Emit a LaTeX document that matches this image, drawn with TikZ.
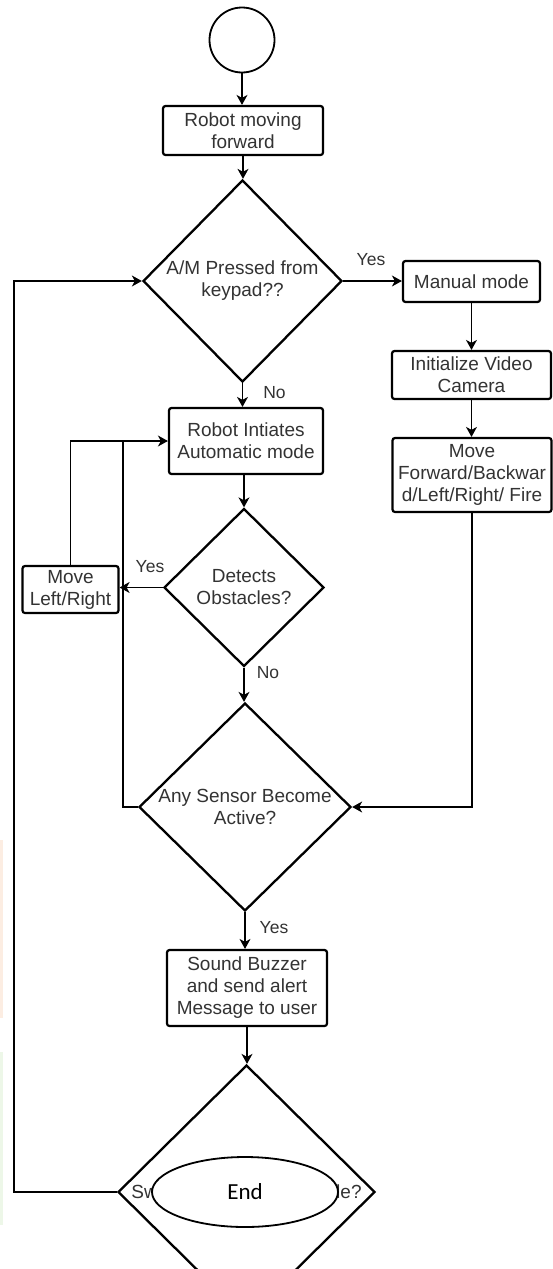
\documentclass[tikz,border=0pt]{standalone}
\usepackage{fontspec}
\setmainfont{Liberation Sans}
\newfontfamily\calfont{Carlito}
\usetikzlibrary{shapes.geometric,arrows.meta}
\definecolor{txtgray}{HTML}{333333}
\definecolor{artorange}{HTML}{FCEDE2}
\definecolor{artgreen}{HTML}{EDF7E8}
\begin{document}
\begin{tikzpicture}[x=1pt,y=-1pt,
  box/.style={draw=black, line width=2.2pt, rounded corners=2.5pt, fill=white, align=center, inner sep=0pt, text=txtgray, font=\fontsize{19}{22}\selectfont},
  dia/.style={draw=black, line width=2.3pt, diamond, inner sep=0pt, fill=white},
  txt/.style={align=center, text=txtgray, font=\fontsize{19}{22}\selectfont, inner sep=0pt},
  lbl/.style={text=txtgray, font=\fontsize{17.5}{20}\selectfont, inner sep=0pt},
  conn/.style={draw=black, line width=1.3pt, -{Stealth[length=10pt,width=11pt,inset=3pt]}},
  plain/.style={draw=black, line width=1.3pt}]
\useasboundingbox (0,0) rectangle (553,1269);
\clip (0,0) rectangle (553,1269);
\fill[white] (0,0) rectangle (553,1269);
\fill[artorange] (0,840) rectangle (3,1018);
\fill[artgreen] (0,1052) rectangle (3,1225);

\node[circle, draw=black, line width=1.8pt, minimum size=65pt, inner sep=0pt] (start) at (242,40) {};
\node[box, minimum width=160pt, minimum height=49pt] (b1) at (243,130.5) {Robot moving\\forward};
\node[dia, minimum width=199pt, minimum height=202pt, label={[txt]center:{A/M Pressed from\\keypad??}}] (d1) at (242.5,281) {};
\node[box, minimum width=137pt, minimum height=41pt] (man) at (471.5,281.5) {Manual mode};
\node[box, minimum width=159pt, minimum height=48pt] (init) at (471.5,375) {Initialize Video\\Camera};
\node[box, minimum width=159pt, minimum height=74pt] (mfb) at (472,475) {Move\\Forward/Backwar\\d/Left/Right/ Fire};
\node[box, minimum width=154pt, minimum height=66pt] (auto) at (246,441) {Robot Intiates\\Automatic mode};
\node[dia, minimum width=160pt, minimum height=158pt, label={[txt]center:{Detects\\Obstacles?}}] (d2) at (244,587.5) {};
\node[box, minimum width=96pt, minimum height=47pt] (mlr) at (70.5,589.5) {Move\\Left/Right};
\node[dia, minimum width=212pt, minimum height=208pt, label={[txt]center:{Any Sensor Become\\Active?}}] (d3) at (245,807) {};
\node[box, minimum width=160pt, minimum height=76pt] (snd) at (247,988) {Sound Buzzer\\and send alert\\Message to user};
\node[dia, minimum width=257pt, minimum height=254pt, label={[txt]center:{Switch to Automatic mode?}}] (d4) at (246.5,1192) {};
\node[ellipse, draw=black, line width=1.8pt, fill=white, minimum width=186pt, minimum height=70pt, inner sep=0pt, font=\calfont\fontsize{23}{26}\selectfont] (end) at (245,1192) {End};

\coordinate (j2) at (123,441);
\coordinate (j3) at (14,281);

\draw[conn] (start.south) -- (start.south |- b1.north);
\draw[conn] (b1.south) -- (b1.south |- d1.north);
\draw[conn] (d1.east) -- (d1.east -| man.west);
\draw[conn] (man.south) -- (man.south |- init.north);
\draw[conn] (init.south) -- (init.south |- mfb.north);
\draw[conn] (d1.south) -- (d1.south |- auto.north);
\draw[conn] (d2.north |- auto.south) -- (d2.north);
\draw[conn] (d2.west) -- (d2.west -| mlr.east);
\draw[conn] (mlr.north) |- (auto.west);
\draw[plain] (d3.west) -| (j2);
\draw[conn] (d2.south) -- (d2.south |- d3.north);
\draw[conn] (mfb.south) |- (d3.east);
\draw[conn] (d3.south) -- (d3.south |- snd.north);
\draw[conn] (snd.south) -- (snd.south |- d4.north);
\draw[conn] (d4.west) -| (j3) -- (d1.west);

\node[lbl] (y1) at (371,260) {Yes};
\node[lbl] (n1) at (274.5,393) {No};
\node[lbl] (y2) at (150,567) {Yes};
\node[lbl] (n2) at (268,673) {No};
\node[lbl] (y3) at (274,928) {Yes};
\end{tikzpicture}
\end{document}
